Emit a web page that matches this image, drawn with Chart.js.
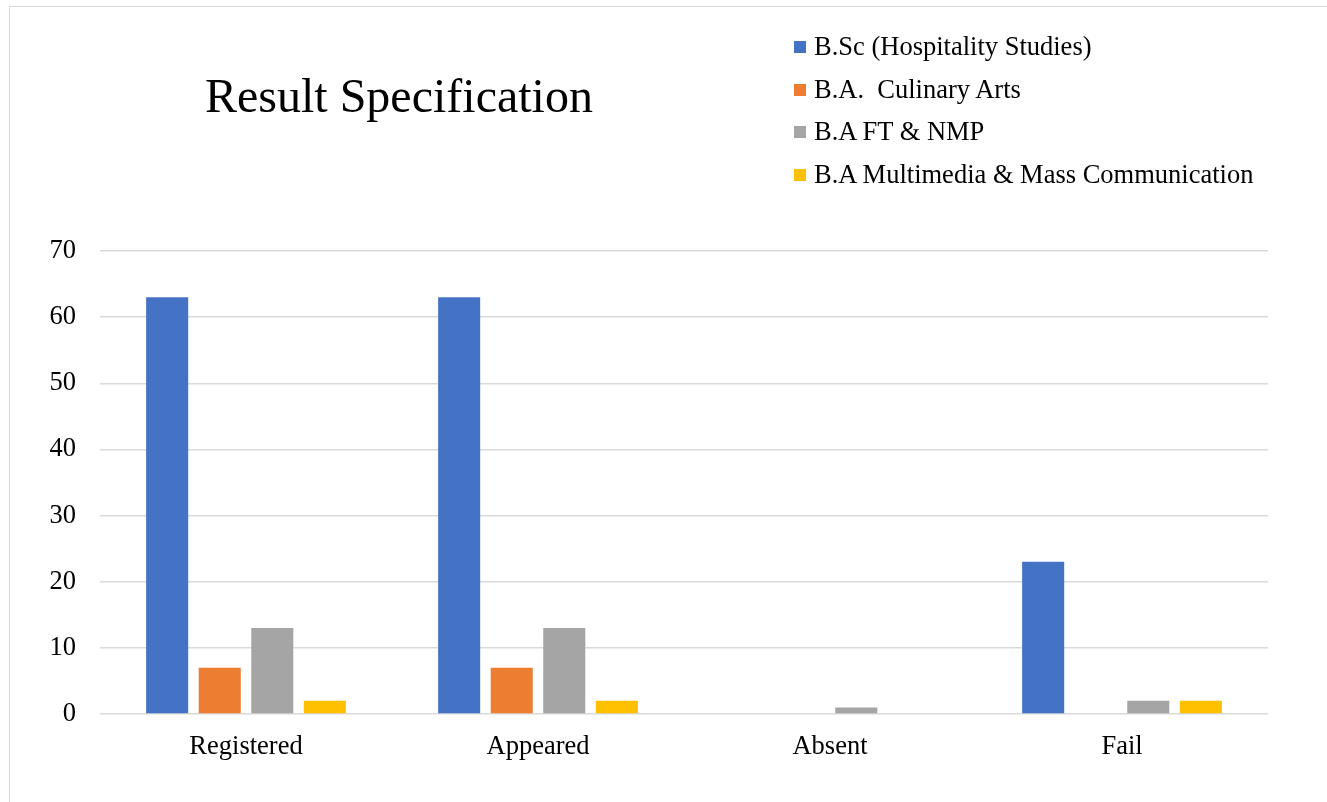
<!DOCTYPE html>
<html>
<head>
<meta charset="utf-8">
<script src="https://cdn.jsdelivr.net/npm/chart.js@4.4.1/dist/chart.umd.min.js"></script>
<style>
    html, body { margin: 0; padding: 0; background: #fff; overflow: hidden; }
    body { width: 1327px; height: 802px; position: relative; font-family: "Liberation Serif", "Times New Roman", serif; }
    #frame { position: absolute; left: 9px; top: 6px; width: 1400px; height: 900px; border-left: 1px solid #d9d9d9; border-top: 1px solid #d9d9d9; }
    #title { position: absolute; left: 205px; top: 68px; font-size: 48px; color: #000; white-space: nowrap; }
    #legend { position: absolute; left: 794px; top: 31px; list-style: none; margin: 0; padding: 0; }
    #legend li { height: 42.7px; display: flex; align-items: flex-start; font-size: 26.5px; color: #000; white-space: nowrap; }
    #legend .box { width: 12px; height: 12px; margin-top: 10px; margin-right: 8px; flex: none; }
    #wrap { position: absolute; left: 0; top: 0; width: 1327px; height: 802px; }
</style>
</head>
<body>
<div id="frame"></div>
<div id="wrap"><canvas id="resultChart"></canvas></div>
<div id="title">Result Specification</div>
<ul id="legend"></ul>

<script>
// श्रेणी आणि मालिका (categories and series)
const categories = ['Registered', 'Appeared', 'Absent', 'Fail'];
const seriesNames = ['B.Sc (Hospitality Studies)', 'B.A.  Culinary Arts', 'B.A FT & NMP', 'B.A Multimedia & Mass Communication'];
const bscHospitality = [63, 63, 0, 23];
const baCulinary = [7, 7, 0, 0];
const baFtNmp = [13, 13, 1, 2];
const baMultimedia = [2, 2, 0, 2];
const yTicks = [0, 10, 20, 30, 40, 50, 60, 70];

const colors = ['#4472C4', '#ED7D31', '#A5A5A5', '#FFC000'];
const seriesValues = [bscHospitality, baCulinary, baFtNmp, baMultimedia];

const ctx = document.getElementById('resultChart');

const chart = new Chart(ctx.getContext('2d'), {
    type: 'bar',
    data: {
        labels: categories,
        datasets: seriesNames.map((name, i) => ({
            label: name,
            data: seriesValues[i],
            backgroundColor: colors[i],
            borderWidth: 0,
            categoryPercentage: 0.72,
            barPercentage: 0.8
        }))
    },
    options: {
        responsive: true,
        maintainAspectRatio: false,
        animation: false,
        layout: {
            padding: { top: 251, right: 59, left: 10, bottom: 0 }
        },
        plugins: {
            legend: { display: false },
            title: { display: false },
            tooltip: { enabled: false }
        },
        scales: {
            x: {
                grid: { display: false, drawTicks: false },
                border: { display: false },
                ticks: {
                    color: '#000',
                    padding: 17,
                    font: { family: '"Liberation Serif", "Times New Roman", serif', size: 26.5 }
                },
                afterFit: s => { s.height = 88; }
            },
            y: {
                min: 0,
                max: 70,
                afterBuildTicks: s => { s.ticks = yTicks.map(v => ({ value: v })); },
                grid: { color: '#d9d9d9', lineWidth: 1.5, drawTicks: false },
                border: { display: false },
                ticks: {
                    color: '#000',
                    padding: 24,
                    font: { family: '"Liberation Serif", "Times New Roman", serif', size: 26.5 }
                },
                afterFit: s => { s.width = 90; }
            }
        }
    }
});

// लेजेंड HTML मध्ये (legend built from the datasets)
const legendEl = document.getElementById('legend');
chart.data.datasets.forEach(ds => {
    const li = document.createElement('li');
    const box = document.createElement('span');
    box.className = 'box';
    box.style.background = ds.backgroundColor;
    const txt = document.createElement('span');
    txt.textContent = ds.label;
    txt.style.whiteSpace = 'pre';
    li.appendChild(box);
    li.appendChild(txt);
    legendEl.appendChild(li);
});
</script>
</body>
</html>
